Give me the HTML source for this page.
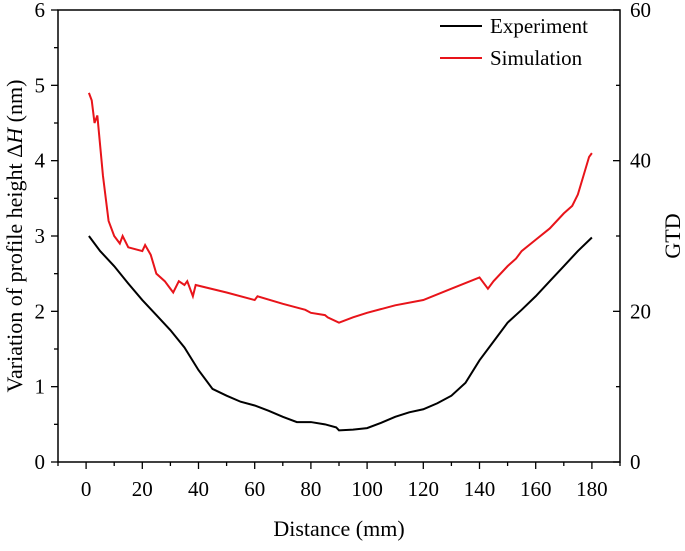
<!DOCTYPE html>
<html><head><meta charset="utf-8"><style>
html,body{margin:0;padding:0;background:#fff;}
svg text{font-family:"Liberation Serif",serif;fill:#000;}
</style></head><body>
<svg id="chart" width="685" height="546" xmlns="http://www.w3.org/2000/svg"></svg>
<script>
const expX=[1,5,10,15,20,25,30,35,40,45,50,55,60,65,70,75,80,85,89,90,95,100,105,110,115,120,125,130,135,140,145,150,155,160,165,170,175,180];
const expY=[3.0,2.8,2.6,2.37,2.15,1.95,1.75,1.52,1.22,0.97,0.88,0.8,0.75,0.68,0.6,0.53,0.53,0.5,0.46,0.42,0.43,0.45,0.52,0.6,0.66,0.7,0.78,0.88,1.05,1.35,1.6,1.85,2.02,2.2,2.4,2.6,2.8,2.98];
const simX=[1,2,3,4,5,6,7,8,10,12,13,15,20,21,23,25,28,30,31,33,35,36,38,39,50,60,61,70,75,78,80,85,86,90,95,100,110,120,130,140,143,145,150,153,155,160,165,170,173,175,177,179,180];
const simY=[49,48,45,46,42,38,35,32,30,29,30,28.5,28,28.8,27.5,25,24,23,22.5,24,23.5,24,22,23.5,22.5,21.5,22,21,20.5,20.2,19.8,19.5,19.2,18.5,19.2,19.8,20.8,21.5,23,24.5,23,24,26,27,28,29.5,31,33,34,35.5,38,40.5,41];
const xTicks=[0,20,40,60,80,100,120,140,160,180];
const yTicks=[0,1,2,3,4,5,6];
const y2Ticks=[0,20,40,60];
const L=58,R=620,T=10,B=462;
const sx=v=>L+(v+10)/200*(R-L);
const sy=v=>B-v/6*(B-T);
const sy2=v=>B-v/60*(B-T);
const svg=document.getElementById('chart');
const NS='http://www.w3.org/2000/svg';
function mk(t,a,p){const e=document.createElementNS(NS,t);for(const k in a)e.setAttribute(k,a[k]);(p||svg).appendChild(e);return e;}
let fr=mk('rect',{x:L,y:T,width:R-L,height:B-T,fill:'none',stroke:'#000','stroke-width':1.5});


for(let v=-10;v<=190;v+=10){const big=v%20===0;const x=sx(v);mk('line',{x1:x,x2:x,y1:B,y2:B+(big?7:4),stroke:'#000','stroke-width':1.3});}
xTicks.forEach(v=>{const t=mk('text',{x:sx(v),y:B+34,'text-anchor':'middle','font-size':21});t.textContent=v;

});
for(let v=0;v<=6;v+=0.5){const y=sy(v);const big=Number.isInteger(v);mk('line',{x1:L,x2:L-(big?7:4),y1:y,y2:y,stroke:'#000','stroke-width':1.3});}
yTicks.forEach(v=>{const t=mk('text',{x:L-13,y:sy(v)+7,'text-anchor':'end','font-size':21});t.textContent=v;

});
for(let v=0;v<=60;v+=10){const y=sy2(v);const big=v%20===0;mk('line',{x1:R,x2:R-(big?7:4),y1:y,y2:y,stroke:'#000','stroke-width':1.3});}
y2Ticks.forEach(v=>{const t=mk('text',{x:R+10,y:sy2(v)+7,'font-size':21});t.textContent=v;

});
const pe=mk('path',{d:expX.map((x,i)=>(i?'L':'M')+sx(x)+','+sy(expY[i])).join(''),fill:'none',stroke:'#000','stroke-width':2});


const ps=mk('path',{d:simX.map((x,i)=>(i?'L':'M')+sx(x)+','+sy2(simY[i])).join(''),fill:'none',stroke:'#e8141a','stroke-width':2});


</script>
<svg style="position:absolute;left:0;top:0" width="685" height="546">
<g>
<g><line x1="440" x2="482" y1="26" y2="26" stroke="#000" stroke-width="2"/><text x="490" y="33" font-size="21">Experiment</text></g>
<g><line x1="440" x2="482" y1="58" y2="58" stroke="#e8141a" stroke-width="2"/><text x="490" y="65" font-size="21">Simulation</text></g>
</g>
<text x="339" y="536" text-anchor="middle" font-size="22">Distance (mm)</text>
<text transform="translate(22,236) rotate(-90)" text-anchor="middle" font-size="22">Variation of profile height Δ<tspan font-style="italic">H</tspan> (nm)</text>
<text transform="translate(680,236) rotate(-90)" text-anchor="middle" font-size="22">GTD</text>
</svg>
</body></html>
